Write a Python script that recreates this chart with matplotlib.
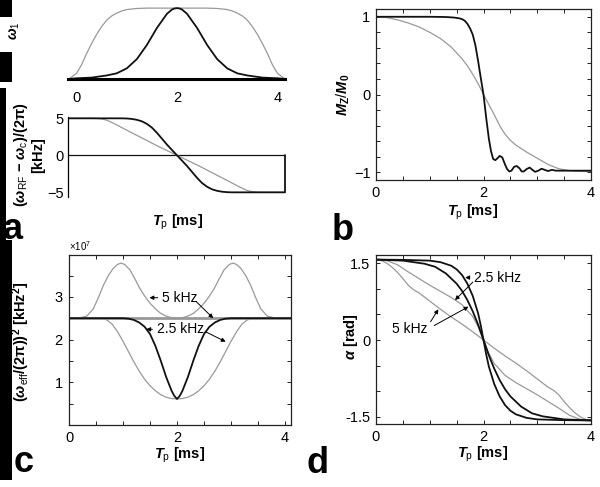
import numpy as np
import matplotlib
matplotlib.use('Agg')
import matplotlib.pyplot as plt
import matplotlib.patches as mpatches
from matplotlib.ticker import MultipleLocator, ScalarFormatter, FixedLocator

plt.rcParams['font.family'] = ['Liberation Sans', 'DejaVu Sans']
plt.rcParams['mathtext.fontset'] = 'custom'
plt.rcParams['mathtext.rm'] = 'Liberation Sans'
plt.rcParams['mathtext.it'] = 'Liberation Sans:italic:bold'
plt.rcParams['mathtext.bf'] = 'Liberation Sans:bold'

################ DATA ################
# panel a, top: RF amplitude w1 (normalised)
t_w1_sech = [-0.15, 0, 0.3, 0.6, 0.8, 1.0, 1.2, 1.4, 1.6, 1.8, 1.9, 1.95, 2.0,
             2.05, 2.1, 2.2, 2.4, 2.6, 2.8, 3.0, 3.2, 3.4, 3.7, 4.0, 4.15]
w1_sech = [0.0, 0.01, 0.02, 0.05, 0.08, 0.15, 0.28, 0.48, 0.72, 0.92, 0.98, 0.995, 1.0,
           0.995, 0.98, 0.92, 0.72, 0.48, 0.28, 0.15, 0.08, 0.05, 0.02, 0.01, 0.0]
t_w1_flat = [-0.15, 0, 0.1, 0.2, 0.3, 0.4, 0.5, 0.6, 0.7, 0.8, 0.9, 1.0, 1.2, 1.4,
             2.0, 2.6, 2.8, 3.0, 3.1, 3.2, 3.3, 3.4, 3.5, 3.6, 3.7, 3.8, 3.9, 4.0, 4.15]
w1_flat = [0.0, 0.08, 0.2, 0.36, 0.5, 0.63, 0.74, 0.83, 0.89, 0.93, 0.96, 0.98, 0.995, 1.0,
           1.0, 1.0, 0.995, 0.98, 0.96, 0.93, 0.89, 0.83, 0.74, 0.63, 0.5, 0.36, 0.2, 0.08, 0.0]

# panel a, bottom: frequency offset [kHz]
t_dw_tanh = [-0.15, 0, 0.5, 0.9, 1.0, 1.1, 1.2, 1.3, 1.4, 1.5, 1.6, 1.7, 1.8, 1.9, 2.0,
             2.1, 2.2, 2.3, 2.4, 2.5, 2.6, 2.7, 2.8, 2.9, 3.0, 3.1, 3.5, 4.0, 4.15, 4.15]
dw_tanh = [5, 5, 5, 5.0, 4.98, 4.92, 4.8, 4.6, 4.25, 3.75, 3.05, 2.25, 1.45, 0.72, 0,
           -0.72, -1.45, -2.25, -3.05, -3.75, -4.25, -4.6, -4.8, -4.92, -4.98, -5.0, -5, -5, -5, 0]
t_dw_lin = [-0.15, 0, 0.3, 0.4, 0.5, 0.6, 0.7, 0.8, 0.9, 1.0, 1.2, 1.4, 1.6, 1.8, 2.0,
            2.2, 2.4, 2.6, 2.8, 3.0, 3.1, 3.2, 3.3, 3.4, 3.5, 3.6, 3.7, 4.0, 4.15]
dw_lin = [5, 5, 5, 4.98, 4.92, 4.75, 4.45, 4.12, 3.75, 3.4, 2.7, 2.0, 1.3, 0.65, 0,
          -0.65, -1.3, -2.0, -2.7, -3.4, -3.75, -4.12, -4.45, -4.75, -4.92, -4.98, -5, -5, -5]

# panel b: Mz/M0
t_mz_a = [0, 0.5, 1.0, 1.3, 1.45, 1.55, 1.6, 1.65, 1.7, 1.75, 1.8, 1.85, 1.9, 1.95, 2.0,
          2.05, 2.1, 2.14, 2.18, 2.22, 2.26, 2.3, 2.35, 2.4, 2.44, 2.48, 2.52, 2.57, 2.62,
          2.67, 2.71, 2.75, 2.8, 2.86, 2.91, 2.96, 3.02, 3.08, 3.14, 3.2, 3.27, 3.35, 3.5, 4.0]
mz_a = [1.0, 1.0, 1.0, 0.997, 0.99, 0.98, 0.97, 0.95, 0.91, 0.85, 0.77, 0.63, 0.43, 0.21, 0.0,
        -0.3, -0.57, -0.73, -0.83, -0.845, -0.82, -0.79, -0.81, -0.9, -0.96, -0.99, -0.98, -0.93,
        -0.92, -0.95, -0.99, -0.99, -0.96, -0.94, -0.97, -0.995, -0.98, -0.955, -0.97, -0.985,
        -0.97, -0.98, -0.98, -0.98]
t_mz_b = [0, 0.2, 0.4, 0.6, 0.8, 1.0, 1.2, 1.4, 1.6, 1.7, 1.8, 1.9, 2.0, 2.1, 2.2, 2.3, 2.4,
          2.5, 2.6, 2.8, 3.0, 3.2, 3.4, 3.6, 3.8, 4.0]
mz_b = [1.0, 0.99, 0.96, 0.92, 0.87, 0.8, 0.72, 0.61, 0.46, 0.37, 0.26, 0.14, 0.0, -0.13, -0.26,
        -0.4, -0.51, -0.59, -0.65, -0.74, -0.82, -0.9, -0.955, -0.98, -0.99, -0.99]

# panel c: (w_eff/2pi)^2 in units of 1e7
t_we_up = [0, 0.2, 0.33, 0.45, 0.55, 0.64, 0.73, 0.82, 0.9, 0.96, 1.03, 1.13, 1.22, 1.31, 1.4,
           1.5, 1.6, 1.69, 1.78, 1.87, 2.0, 2.13, 2.22, 2.31, 2.4, 2.5, 2.6, 2.69, 2.78, 2.87,
           2.97, 3.04, 3.1, 3.18, 3.27, 3.36, 3.45, 3.55, 3.67, 3.8, 4.11]
we_up = [2.5, 2.51, 2.55, 2.72, 3.0, 3.28, 3.5, 3.67, 3.76, 3.79, 3.76, 3.63, 3.42, 3.2, 3.02,
         2.85, 2.72, 2.62, 2.56, 2.52, 2.5, 2.52, 2.56, 2.62, 2.72, 2.85, 3.02, 3.2, 3.42, 3.63,
         3.76, 3.79, 3.76, 3.67, 3.5, 3.28, 3.0, 2.72, 2.55, 2.51, 2.5]
t_we_wide = [0, 0.6, 0.7, 0.8, 0.9, 1.0, 1.1, 1.2, 1.3, 1.4, 1.5, 1.6, 1.7, 1.8, 1.9, 2.0,
             2.1, 2.2, 2.3, 2.4, 2.5, 2.6, 2.7, 2.8, 2.9, 3.0, 3.1, 3.2, 3.3, 3.4, 4.11]
we_wide = [2.5, 2.5, 2.46, 2.36, 2.18, 1.96, 1.72, 1.48, 1.26, 1.07, 0.92, 0.8, 0.71, 0.65, 0.62, 0.61,
           0.62, 0.65, 0.71, 0.8, 0.92, 1.07, 1.26, 1.48, 1.72, 1.96, 2.18, 2.36, 2.46, 2.5, 2.5]
t_we_narrow = [0, 1.0, 1.1, 1.2, 1.3, 1.4, 1.5, 1.6, 1.7, 1.8, 1.9, 1.95, 2.0,
               2.05, 2.1, 2.2, 2.3, 2.4, 2.5, 2.6, 2.7, 2.8, 2.9, 3.0, 4.11]
we_narrow = [2.5, 2.5, 2.49, 2.46, 2.4, 2.3, 2.13, 1.85, 1.5, 1.12, 0.8, 0.68, 0.61,
             0.68, 0.8, 1.12, 1.5, 1.85, 2.13, 2.3, 2.4, 2.46, 2.49, 2.5, 2.5]
we_flat = 2.5

# panel d: alpha [rad]
t_al_1 = [0, 0.5, 1.0, 1.2, 1.4, 1.5, 1.6, 1.7, 1.8, 1.9, 1.95, 2.0,
          2.05, 2.1, 2.2, 2.3, 2.4, 2.5, 2.6, 2.8, 3.0, 3.5, 4.0]
al_1 = [1.57, 1.565, 1.55, 1.52, 1.45, 1.38, 1.27, 1.1, 0.86, 0.52, 0.28, 0.0,
        -0.28, -0.52, -0.86, -1.1, -1.27, -1.38, -1.45, -1.52, -1.55, -1.565, -1.57]
t_al_2 = [0, 0.5, 0.9, 1.1, 1.3, 1.5, 1.6, 1.7, 1.8, 1.9, 2.0,
          2.1, 2.2, 2.3, 2.4, 2.5, 2.7, 2.9, 3.1, 3.5, 4.0]
al_2 = [1.57, 1.55, 1.49, 1.43, 1.3, 1.1, 0.96, 0.78, 0.56, 0.3, 0.0,
        -0.3, -0.56, -0.78, -0.96, -1.1, -1.3, -1.43, -1.49, -1.55, -1.57]
t_al_3 = [0, 0.2, 0.4, 0.6, 0.8, 1.0, 1.2, 1.4, 1.6, 1.8, 1.9, 2.0,
          2.1, 2.2, 2.4, 2.6, 2.8, 3.0, 3.2, 3.4, 3.6, 3.8, 4.0]
al_3 = [1.57, 1.55, 1.47, 1.33, 1.2, 1.07, 0.95, 0.83, 0.69, 0.46, 0.26, 0.0,
        -0.26, -0.46, -0.69, -0.83, -0.95, -1.07, -1.2, -1.33, -1.47, -1.55, -1.57]
t_al_4 = [0, 0.1, 0.2, 0.3, 0.4, 0.5, 0.6, 0.7, 0.8, 1.0, 1.2, 1.4, 1.6, 1.8, 2.0,
          2.2, 2.4, 2.6, 2.8, 3.0, 3.2, 3.3, 3.4, 3.5, 3.6, 3.7, 3.8, 3.9, 4.0]
al_4 = [1.57, 1.55, 1.5, 1.42, 1.32, 1.2, 1.07, 0.98, 0.92, 0.76, 0.6, 0.45, 0.31, 0.16, 0.0,
        -0.16, -0.31, -0.45, -0.6, -0.76, -0.92, -0.98, -1.07, -1.2, -1.32, -1.42, -1.5, -1.55, -1.57]

################ LAYOUT ################
W, H = 600, 487
BLK = '#111111'
GRY = '#999999'
FS = 10.5

def rect(l, t, r, b):
    # pixel box -> figure fraction
    return [l / W, 1 - b / H, (r - l) / W, (b - t) / H]

def fpos(x, y):
    return x / W, 1 - y / H

def boxed(ax):
    for s in ax.spines.values():
        s.set_linewidth(0.9)
        s.set_color('#222222')
    ax.tick_params(which='both', direction='in', top=True, right=True,
                   length=3, width=0.7, labelsize=FS, pad=4, colors='#222222',
                   labelcolor='black')

fig = plt.figure(figsize=(6, 4.87), dpi=100)

# black strips on the left edge of the scan
for (x0, y0, x1, y1) in [(0, 0, 12, 17), (0, 52, 12, 82), (0, 88, 6, 240), (0, 240, 12, 480)]:
    fig.add_artist(mpatches.Rectangle((x0 / W, 1 - y1 / H), (x1 - x0) / W, (y1 - y0) / H,
                                      transform=fig.transFigure, color='black', lw=0))

# ---- a (top): w1 ----
ax = fig.add_axes(rect(68, 6, 285, 79))
ax.plot(t_w1_flat, w1_flat, color=GRY, lw=0.9)
ax.plot(t_w1_sech, w1_sech, color=BLK, lw=1.3)
ax.set_xlim(-0.17, 4.15)
ax.set_ylim(0, 1.03)
for s in ['top', 'right', 'left']:
    ax.spines[s].set_visible(False)
ax.spines['bottom'].set_linewidth(2.2)
ax.set_yticks([])
ax.set_xticks([0, 2, 4])
ax.tick_params(axis='x', length=0, pad=9, labelsize=FS)
ax.patch.set_alpha(0)
fig.text(*fpos(15, 31), r'$\omega_1$', rotation=90, ha='center', va='center', fontsize=10)

# ---- a (bottom): offset frequency ----
ax = fig.add_axes(rect(68, 117, 285, 197))
ax.axhline(0, color=BLK, lw=0.9)
ax.plot(t_dw_lin, dw_lin, color=GRY, lw=0.9)
ax.plot(t_dw_tanh, dw_tanh, color=BLK, lw=1.3, clip_on=False)
ax.set_xlim(-0.17, 4.15)
ax.set_ylim(-5.63, 5.18)
for s in ['top', 'right', 'bottom']:
    ax.spines[s].set_visible(False)
ax.spines['left'].set_linewidth(0.9)
ax.set_xticks([])
ax.set_yticks([-5, 0, 5])
ax.tick_params(axis='y', length=0, pad=3, labelsize=FS)
ax.patch.set_alpha(0)
fig.text(*fpos(29, 155), '($\\omega_\\mathrm{RF}$ \u2212 $\\omega_\\mathrm{c}$)/(2\u03c0)\n[kHz]',
         rotation=90, ha='center', va='center', fontsize=FS, fontweight='bold',
         multialignment='center', linespacing=1.1)
fig.text(*fpos(178, 222), r'$T_\mathrm{p}$ [ms]', ha='center', va='center',
         fontsize=FS, fontweight='bold')
fig.text(*fpos(3, 239), 'a', ha='left', va='baseline', fontsize=26, fontweight='bold')

# ---- b: Mz/M0 ----
ax = fig.add_axes(rect(376, 9, 591, 180))
ax.plot(t_mz_b, mz_b, color=GRY, lw=0.9)
ax.plot(t_mz_a, mz_a, color=BLK, lw=1.3)
ax.set_xlim(0, 4)
ax.set_ylim(-1.1, 1.1)
ax.xaxis.set_major_locator(FixedLocator([0, 2, 4]))
ax.xaxis.set_minor_locator(MultipleLocator(0.5))
ax.yaxis.set_major_locator(FixedLocator([-1, 0, 1]))
ax.yaxis.set_minor_locator(MultipleLocator(0.2))
boxed(ax)
fig.text(*fpos(343, 95), r'$M_\mathbf{Z}/M_\mathbf{0}$', rotation=90, ha='center', va='center',
         fontsize=FS, fontweight='bold')
fig.text(*fpos(473, 212), r'$T_\mathrm{p}$ [ms]', ha='center', va='center',
         fontsize=FS, fontweight='bold')
fig.text(*fpos(332, 240), 'b', ha='left', va='baseline', fontsize=26, fontweight='bold')

# ---- c: effective field squared ----
ax = fig.add_axes(rect(69, 255, 291, 425))
ax.axhline(we_flat * 1e7, color=GRY, lw=2.0)
ax.plot(t_we_up, np.array(we_up) * 1e7, color=GRY, lw=0.9)
ax.plot(t_we_wide, np.array(we_wide) * 1e7, color=GRY, lw=0.9)
ax.plot(t_we_narrow, np.array(we_narrow) * 1e7, color=BLK, lw=1.3)
ax.set_xlim(0, 4.11)
ax.set_ylim(0, 3.98e7)
ax.xaxis.set_major_locator(FixedLocator([0, 2, 4]))
ax.xaxis.set_minor_locator(MultipleLocator(0.5))
ax.yaxis.set_major_locator(FixedLocator([1e7, 2e7, 3e7]))
ax.yaxis.set_minor_locator(MultipleLocator(0.5e7))
fmt = ScalarFormatter(useMathText=True)
ax.yaxis.set_major_formatter(fmt)
boxed(ax)
ax.yaxis.get_offset_text().set_fontsize(7)
arr = dict(arrowstyle='-|>', lw=0.7, color='black', mutation_scale=6, shrinkA=1, shrinkB=0)
ax.annotate('5 kHz', xy=(1.49, 2.98e7), xytext=(1.72, 2.98e7), ha='left', va='center',
            fontsize=10, arrowprops=arr)
ax.annotate('', xy=(2.67, 2.5e7), xytext=(2.33, 2.92e7), arrowprops=arr)
ax.annotate('2.5 kHz', xy=(1.43, 2.24e7), xytext=(1.62, 2.24e7), ha='left', va='center',
            fontsize=10, arrowprops=arr)
ax.annotate('', xy=(2.9, 1.95e7), xytext=(2.5, 2.2e7), arrowprops=arr)
fig.text(*fpos(21, 342), '($\\omega_\\mathrm{eff}$/(2\u03c0))$^\\mathbf{2}$ [kHz$^\\mathbf{2}$]',
         rotation=90, ha='center', va='center', fontsize=FS, fontweight='bold')
fig.text(*fpos(180, 455), r'$T_\mathrm{p}$ [ms]', ha='center', va='center',
         fontsize=FS, fontweight='bold')
fig.text(*fpos(14, 472), 'c', ha='left', va='baseline', fontsize=26, fontweight='bold')

# ---- d: alpha ----
ax = fig.add_axes(rect(376, 255, 591, 424))
ax.plot(t_al_4, al_4, color=GRY, lw=0.9)
ax.plot(t_al_3, al_3, color=GRY, lw=0.9)
ax.plot(t_al_2, al_2, color=BLK, lw=1.3)
ax.plot(t_al_1, al_1, color=BLK, lw=1.3)
ax.set_xlim(0, 4)
ax.set_ylim(-1.64, 1.66)
ax.xaxis.set_major_locator(FixedLocator([0, 2, 4]))
ax.xaxis.set_minor_locator(MultipleLocator(0.5))
ax.yaxis.set_major_locator(FixedLocator([-1.5, 0, 1.5]))
ax.yaxis.set_minor_locator(MultipleLocator(0.5))
ax.set_yticklabels(['-1.5', '0', '1.5'])
boxed(ax)
ax.annotate('2.5 kHz', xy=(1.66, 1.22), xytext=(1.82, 1.21), ha='left', va='center',
            fontsize=10, arrowprops=arr)
ax.annotate('', xy=(1.47, 0.78), xytext=(1.82, 1.15), arrowprops=arr)
ax.annotate('5 kHz', xy=(1.16, 0.6), xytext=(0.29, 0.22), ha='left', va='center',
            fontsize=10, arrowprops=dict(arr, relpos=(1.0, 0.6)))
ax.annotate('', xy=(1.72, 0.65), xytext=(1.06, 0.27), arrowprops=arr)
fig.text(*fpos(351, 337), r'$\alpha$ [rad]', rotation=90, ha='center', va='center',
         fontsize=FS, fontweight='bold')
fig.text(*fpos(483, 454), r'$T_\mathrm{p}$ [ms]', ha='center', va='center',
         fontsize=FS, fontweight='bold')
fig.text(*fpos(307, 473), 'd', ha='left', va='baseline', fontsize=26, fontweight='bold')

fig.savefig('out.png', dpi=100)
